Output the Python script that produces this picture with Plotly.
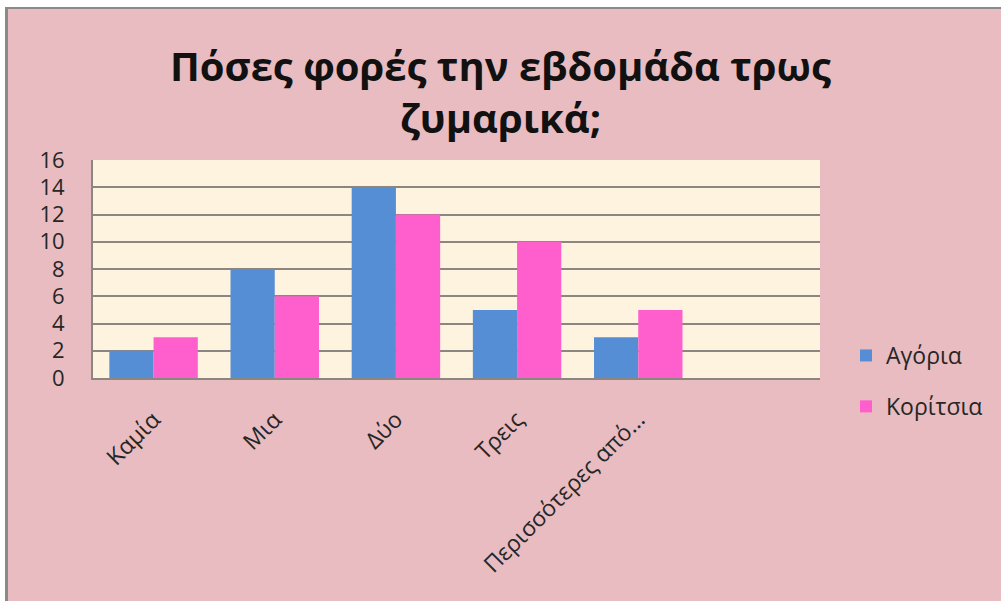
import plotly.graph_objects as go

# Survey: how many times a week pasta is eaten, boys vs girls
categories = ["Καμία", "Μια", "Δύο", "Τρεις", "Περισσότερες από..."]
boys = [2, 8, 14, 5, 3]
girls = [3, 6, 12, 10, 5]
y_ticks = [0, 2, 4, 6, 8, 10, 12, 14, 16]

W, H = 1001, 601
ML, MR, MT, MB = 93, 181, 160, 223
PW, PH = W - ML - MR, H - MT - MB

PINK_BG = "#E8BCC0"
CREAM = "#FDF3DE"
BLUE = "#558ED5"
MAGENTA = "#FF5FCC"
GRID = "#8C8680"
FONT = "Open Sans"


def px_x(px):
    return (px - ML) / PW


def px_y(py):
    return (H - MB - py) / PH


xpos = list(range(len(categories)))

fig = go.Figure()
fig.add_trace(go.Bar(x=xpos, y=boys, name="Αγόρια", marker_color=BLUE,
                     marker_line_width=0, legendgroup="a"))
fig.add_trace(go.Bar(x=xpos, y=girls, name="Κορίτσια", marker_color=MAGENTA,
                     marker_line_width=0, legendgroup="b"))

# thin white strip and grey edge along the top and left of the canvas
frame = [
    dict(x0=px_x(0), x1=px_x(W), y0=px_y(0), y1=px_y(7), color="white"),
    dict(x0=px_x(0), x1=px_x(W), y0=px_y(7), y1=px_y(9), color="#8A8A8A"),
    dict(x0=px_x(0), x1=px_x(5), y0=px_y(0), y1=px_y(H), color="white"),
    dict(x0=px_x(5), x1=px_x(8), y0=px_y(7), y1=px_y(H), color="#8A8A8A"),
]
shapes = [
    dict(type="rect", xref="paper", yref="paper", x0=f["x0"], x1=f["x1"],
         y0=f["y0"], y1=f["y1"], fillcolor=f["color"], line_width=0, layer="above")
    for f in frame
]

fig.update_layout(
    width=W, height=H,
    template="none",
    margin=dict(l=ML, r=MR, t=MT, b=MB, autoexpand=False),
    paper_bgcolor=PINK_BG,
    plot_bgcolor=CREAM,
    barmode="group",
    bargap=0.27,
    bargroupgap=0,
    title=dict(
        text="Πόσες φορές την εβδομάδα τρως<br>ζυμαρικά;",
        font=dict(family=FONT, size=40, color="#111111", weight=700),
        x=0.5, xref="container", xanchor="center",
        y=1 - 81 / H, yref="container", yanchor="top",
    ),
    font=dict(family=FONT, color="#262626"),
    showlegend=True,
    legend=dict(
        x=px_x(846), xanchor="left",
        y=px_y(381), yanchor="middle",
        font=dict(family=FONT, size=23, color="#262626"),
        bgcolor="rgba(0,0,0,0)",
        tracegroupgap=18,
        traceorder="grouped",
    ),
    xaxis=dict(
        range=[-0.5, 5.5],
        tickmode="array", tickvals=xpos, ticktext=categories,
        tickangle=-45,
        tickfont=dict(family=FONT, size=23, color="#262626"),
        showgrid=False, zeroline=False,
        showline=True, linecolor=GRID, linewidth=2,
        ticks="", automargin=False,
        ticklabelstandoff=17,
    ),
    yaxis=dict(
        range=[0, 16],
        tickmode="array", tickvals=y_ticks,
        tickfont=dict(family=FONT, size=22, color="#262626"),
        showgrid=True, gridcolor=GRID, gridwidth=2,
        zeroline=False,
        showline=True, linecolor=GRID, linewidth=2,
        ticks="", automargin=False,
        ticklabelstandoff=22,
    ),
    shapes=shapes,
)

fig.write_html("out.html")
